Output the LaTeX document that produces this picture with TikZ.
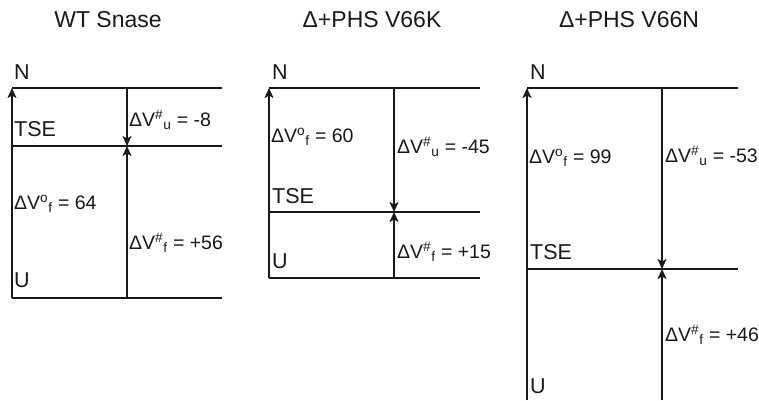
\documentclass[tikz,border=0pt]{standalone}
\usepackage{fontspec}
\setmainfont{Liberation Sans}
\usetikzlibrary{arrows.meta}
\definecolor{ink}{RGB}{25,25,25}
\tikzset{
  level/.style={draw=ink, line width=1.5pt},
  varrow/.style={draw=ink, line width=1.8pt, -{Stealth[length=10pt,width=9pt,inset=2.5pt]}},
  state/.style={anchor=west, inner sep=0pt, font=\fontsize{21.5}{24}\selectfont, text=ink},
  lab/.style={anchor=west, inner sep=0pt, font=\fontsize{19.5}{22}\selectfont, text=ink},
  ttl/.style={inner sep=0pt, font=\fontsize{23}{26}\selectfont, text=ink},
}
\newcommand{\dvu}[1]{ΔV\textsuperscript{\#}\textsubscript{u} = #1}
\newcommand{\dvf}[1]{ΔV\textsuperscript{\#}\textsubscript{f} = #1}
\newcommand{\dvo}[1]{ΔV\textsuperscript{o}\textsubscript{f} = #1}
\begin{document}
\begin{tikzpicture}[x=1pt,y=-1pt]
\useasboundingbox (0,0) rectangle (759,400);
% titles
\node[ttl] (t1) at (108,20) {WT Snase};
\node[ttl] (t2) at (372,20) {Δ+PHS V66K};
\node[ttl] (t3) at (629,20) {Δ+PHS V66N};

% ---------- panel 1 ----------
\coordinate (aTL) at (12,88);  \coordinate (aTR) at (127,88);  \coordinate (aTE) at (222,88);
\coordinate (aSL) at (12,146); \coordinate (aSR) at (127,146); \coordinate (aSE) at (222,146);
\coordinate (aBL) at (12,298); \coordinate (aBR) at (127,298); \coordinate (aBE) at (222,298);
\draw[level] (aTL) -- (aTE);
\draw[level] (aSL) -- (aSE);
\draw[level] (aBL) -- (aBE);
\draw[varrow] (aBL) -- (aTL);
\draw[varrow] (aTR) -- (aSR);
\draw[varrow] (aBR) -- (aSR);
\node[state] (aN) at (14,72) {N};
\node[state] (aTSE) at (14,129) {TSE};
\node[state] (aU) at (14,280) {U};
\node[lab] (aV0) at (14,204) {\dvo{64}};
\node[lab] (aVu) at (129,120) {\dvu{-8}};
\node[lab] (aVf) at (129,243) {\dvf{+56}};

% ---------- panel 2 ----------
\coordinate (bTL) at (269,88);  \coordinate (bTR) at (394,88);  \coordinate (bTE) at (480,88);
\coordinate (bSL) at (269,212); \coordinate (bSR) at (394,212); \coordinate (bSE) at (480,212);
\coordinate (bBL) at (269,278); \coordinate (bBR) at (394,278); \coordinate (bBE) at (480,278);
\draw[level] (bTL) -- (bTE);
\draw[level] (bSL) -- (bSE);
\draw[level] (bBL) -- (bBE);
\draw[varrow] (bBL) -- (bTL);
\draw[varrow] (bTR) -- (bSR);
\draw[varrow] (bBR) -- (bSR);
\node[state] (bN) at (272,72) {N};
\node[state] (bTSE) at (272,196) {TSE};
\node[state] (bU) at (272,261) {U};
\node[lab] (bV0) at (271,137) {\dvo{60}};
\node[lab] (bVu) at (397,147) {\dvu{-45}};
\node[lab] (bVf) at (397,252) {\dvf{+15}};

% ---------- panel 3 ----------
\coordinate (cTL) at (527,88);  \coordinate (cTR) at (662,88);  \coordinate (cTE) at (738,88);
\coordinate (cSL) at (527,269); \coordinate (cSR) at (662,269); \coordinate (cSE) at (738,269);
\coordinate (cBL) at (527,400); \coordinate (cBR) at (662,400);
\draw[level] (cTL) -- (cTE);
\draw[level] (cSL) -- (cSE);
\draw[varrow] (cBL) -- (cTL);
\draw[varrow] (cTR) -- (cSR);
\draw[varrow] (cBR) -- (cSR);
\node[state] (cN) at (530,72) {N};
\node[state] (cTSE) at (530,252) {TSE};
\node[state] (cU) at (530,386) {U};
\node[lab] (cV0) at (529,158) {\dvo{99}};
\node[lab] (cVu) at (665,156) {\dvu{-53}};
\node[lab] (cVf) at (665,335) {\dvf{+46}};
\end{tikzpicture}
\end{document}
